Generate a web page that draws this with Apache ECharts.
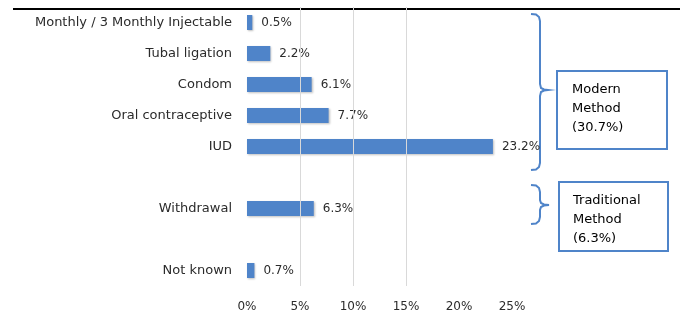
<!DOCTYPE html>
<html>
<head>
<meta charset="utf-8">
<script src="https://cdn.jsdelivr.net/npm/echarts@6/dist/echarts.min.js"></script>
<style>
html, body { margin: 0; padding: 0; background: #fff; }
#chart { width: 683px; height: 318px; }
</style>
</head>
<body>
<div id="chart"></div>
<script>
// methods, top to bottom (empty names leave the gaps between groups)
var methods = ['Monthly / 3 Monthly Injectable', 'Tubal ligation', 'Condom',
	'Oral contraceptive', 'IUD', '', 'Withdrawal', '', 'Not known'];
// share of women using each method (%)
var shares = [0.5, 2.2, 6.1, 7.7, 23.2, null, 6.3, null, 0.7];
// vertical grid lines that are visible in the picture
var gridValues = [5, 10, 15];
// group boxes
var groupLabels = ['Modern\nMethod\n(30.7%)', 'Traditional\nMethod\n(6.3%)'];

var blue = '#4f84c9';
var font = 'DejaVu Sans';
var textColor = '#2b2b2b';

var myChart = echarts.init(document.getElementById('chart'));

var option = {
	animation : false,
	textStyle : {
		fontFamily : font
	},
	grid : {
		left : 247,
		top : 7,
		width : 265,
		height : 279
	},
	xAxis : {
		type : 'value',
		min : 0,
		max : 25,
		interval : 5,
		axisLine : { show : false },
		axisTick : { show : false },
		splitLine : { show : false },
		axisLabel : {
			margin : 15,
			fontSize : 12,
			color : textColor,
			formatter : '{value}%'
		}
	},
	yAxis : {
		type : 'category',
		inverse : true,
		data : methods,
		axisLine : { show : false },
		axisTick : { show : false },
		axisLabel : {
			margin : 15,
			fontSize : 13,
			color : textColor
		}
	},
	series : [ {
		type : 'bar',
		data : shares,
		barWidth : 15,
		itemStyle : {
			color : blue,
			shadowColor : 'rgba(0,0,0,0.25)',
			shadowBlur : 2,
			shadowOffsetX : 1,
			shadowOffsetY : 1
		},
		label : {
			show : true,
			position : 'right',
			distance : 9,
			fontSize : 12,
			color : textColor,
			formatter : function(p) {
				return p.value + '%';
			}
		},
		markLine : {
			silent : true,
			symbol : 'none',
			label : { show : false },
			lineStyle : {
				color : '#d9d9d9',
				type : 'solid',
				width : 1
			},
			data : gridValues.map(function(v) {
				return { xAxis : v };
			})
		},
		z : 3
	} ],
	graphic : [
		// top border line
		{
			type : 'line',
			shape : { x1 : 13, y1 : 9, x2 : 680, y2 : 9 },
			style : { stroke : '#000', lineWidth : 2 }
		},
		// modern brace
		{
			type : 'polyline',
			shape : {
				points : [[531, 14], [536, 14.5], [539, 17], [540, 21], [540, 84],
					[541, 88], [544, 89.5], [548, 90], [544, 90.5], [541, 92], [540, 96],
					[540, 163], [539, 167], [536, 169.5], [531, 170]]
			},
			style : { fill : null, stroke : blue, lineWidth : 2 }
		},
		// traditional brace
		{
			type : 'polyline',
			shape : {
				points : [[531, 185], [536, 185.5], [539, 188], [540, 192], [540, 200],
					[541, 203], [544, 204.5], [549, 205], [544, 205.5], [541, 207], [540, 210],
					[540, 217], [539, 221], [536, 223.5], [531, 224]]
			},
			style : { fill : null, stroke : blue, lineWidth : 2 }
		},
		{
			type : 'rect',
			shape : { x : 557, y : 71, width : 110, height : 78 },
			style : { fill : '#fff', stroke : blue, lineWidth : 2 }
		},
		{
			type : 'text',
			x : 572,
			y : 80,
			style : {
				text : groupLabels[0],
				font : '13px "' + font + '"',
				fill : '#000',
				lineHeight : 19
			}
		},
		{
			type : 'rect',
			shape : { x : 559, y : 182, width : 109, height : 69 },
			style : { fill : '#fff', stroke : blue, lineWidth : 2 }
		},
		{
			type : 'text',
			x : 573,
			y : 191,
			style : {
				text : groupLabels[1],
				font : '13px "' + font + '"',
				fill : '#000',
				lineHeight : 19
			}
		}
	]
};
myChart.setOption(option);
</script>
</body>
</html>
